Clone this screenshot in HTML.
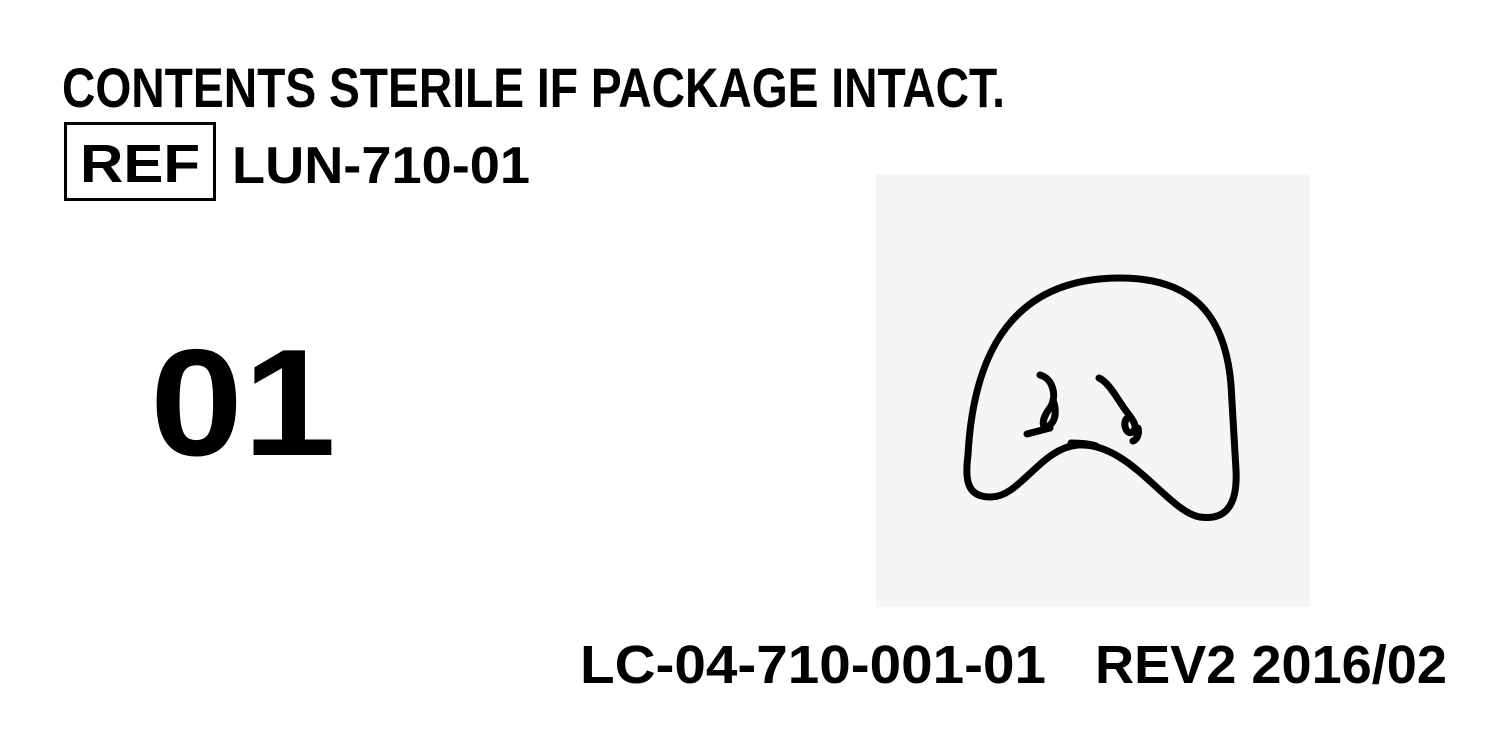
<!DOCTYPE html>
<html><head><meta charset="utf-8"><style>
html,body{margin:0;padding:0;background:#fff;}
svg{display:block;}
text{font-family:"Liberation Sans",sans-serif;font-weight:bold;fill:#000;}
</style></head><body>
<svg width="1500" height="750" viewBox="0 0 1500 750" xmlns="http://www.w3.org/2000/svg">
<rect width="1500" height="750" fill="#fff"/>
<text x="62" y="107" font-size="56" textLength="943" lengthAdjust="spacingAndGlyphs">CONTENTS STERILE IF PACKAGE INTACT.</text>
<rect x="65.5" y="123.5" width="149" height="76" fill="none" stroke="#000" stroke-width="3"/>
<text x="80" y="182" font-size="54" textLength="120" lengthAdjust="spacingAndGlyphs">REF</text>
<text x="232" y="183" font-size="52" textLength="298" lengthAdjust="spacingAndGlyphs">LUN-710-01</text>
<text x="150" y="455" font-size="152" textLength="186" lengthAdjust="spacingAndGlyphs">01</text>
<rect x="876" y="174" width="434" height="433" fill="#f5f5f5"/>
<g fill="none" stroke="#000" stroke-width="7" stroke-linecap="round" stroke-linejoin="round">
<path d="M1120,278 C1190,278 1225,312 1231,385 L1236,470 C1238,510 1222,520 1200,517 C1168,512 1130,442 1078,445 C1040,448 1020,498 990,497 C966,497 965,478 968,455 C972,380 995,278 1120,278 Z"/>
<path d="M1040,375 C1052,378 1058,395 1050,408 C1040,420 1042,432 1050,425 C1058,418 1055,405 1053,400 M1050,428 L1027,434"/>
<path d="M1099,378 C1108,382 1115,395 1122,405 C1128,415 1140,425 1133,432 C1125,436 1122,420 1128,418 M1138,428 C1140,435 1136,440 1133,441"/>
<path d="M1071,443 C1080,443 1090,444 1096,446"/>
</g>
<text x="580" y="683" font-size="54" textLength="466" lengthAdjust="spacingAndGlyphs">LC-04-710-001-01</text>
<text x="1095" y="683" font-size="54" textLength="352" lengthAdjust="spacingAndGlyphs">REV2 2016/02</text>
</svg>
</body></html>
